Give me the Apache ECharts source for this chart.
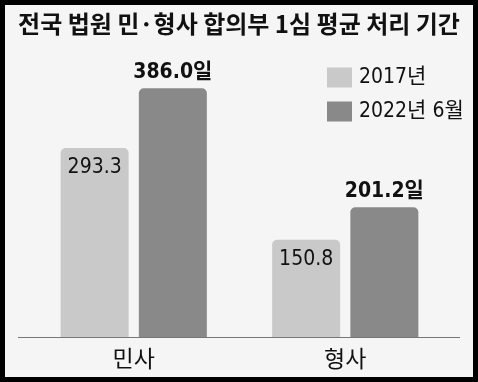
<!DOCTYPE html>
<html><head><meta charset="utf-8">
<script src="https://cdn.jsdelivr.net/npm/echarts@6/dist/echarts.min.js"></script>
<style>html,body{margin:0;padding:0;background:#f6f5f6}#c{width:478px;height:382px}</style>
</head><body><div id="c"></div>
<script>
var categories = ['민사', '형사'];
var seriesNames = ['2017년', '2022년 6월'];
var values2017 = [293.3, 150.8];
var values2022 = [386.0, 201.2];
var titleText = '전국 법원 민·형사 합의부 1심 평균 처리 기간';

var NARROW = '"Liberation Sans Narrow", "DejaVu Sans Condensed", "Noto Sans CJK KR", sans-serif';
var chart = echarts.init(document.getElementById('c'), null, {renderer: 'canvas'});
chart.setOption({
  backgroundColor: '#f6f5f6',
  animation: false,
  title: {
    text: titleText, left: 'center', top: 7,
    textStyle: {fontFamily: '"Noto Sans CJK KR", sans-serif', fontWeight: 'bold', fontSize: 24, color: '#111'}
  },
  legend: {
    orient: 'vertical', left: 322, top: 62, itemWidth: 25, itemHeight: 20, itemGap: 13,
    icon: 'rect',
    textStyle: {fontFamily: NARROW, fontSize: 21, color: '#111', padding: [0, 0, 0, 2]},
    data: seriesNames
  },
  grid: {left: 28, right: 27, bottom: 45, top: 47},
  xAxis: {
    type: 'category', data: categories,
    axisLine: {show: false},
    axisTick: {show: false},
    axisLabel: {fontFamily: NARROW, fontSize: 23, color: '#111', margin: 13}
  },
  yAxis: {type: 'value', min: 0, max: 450, show: false, splitLine: {show: false}},
  series: [
    {
      name: seriesNames[0], type: 'bar', data: values2017, barWidth: 68, barGap: '15%',
      itemStyle: {color: '#c9c9c9', borderRadius: [5, 5, 0, 0]},
      label: {show: true, position: 'insideTop', distance: 9, fontFamily: NARROW, fontSize: 21, color: '#111',
        formatter: function (p) { return p.value.toFixed(1); }}
    },
    {
      name: seriesNames[1], type: 'bar', data: values2022, barWidth: 68,
      itemStyle: {color: '#898989', borderRadius: [5, 5, 0, 0]},
      label: {show: true, position: 'top', distance: 5, fontFamily: NARROW, fontSize: 21, fontWeight: 'bold', color: '#111',
        formatter: function (p) { return p.value.toFixed(1) + '일'; }}
    }
  ],
  graphic: [
    {type: 'line', silent: true, shape: {x1: 18, y1: 337.5, x2: 460, y2: 337.5}, style: {stroke: '#777', lineWidth: 1}},
    {type: 'rect', silent: true, z: 100, shape: {x: 0, y: 0, width: 478, height: 382},
      style: {fill: 'none', stroke: '#000', lineWidth: 10}}
  ]
});
</script></body></html>
